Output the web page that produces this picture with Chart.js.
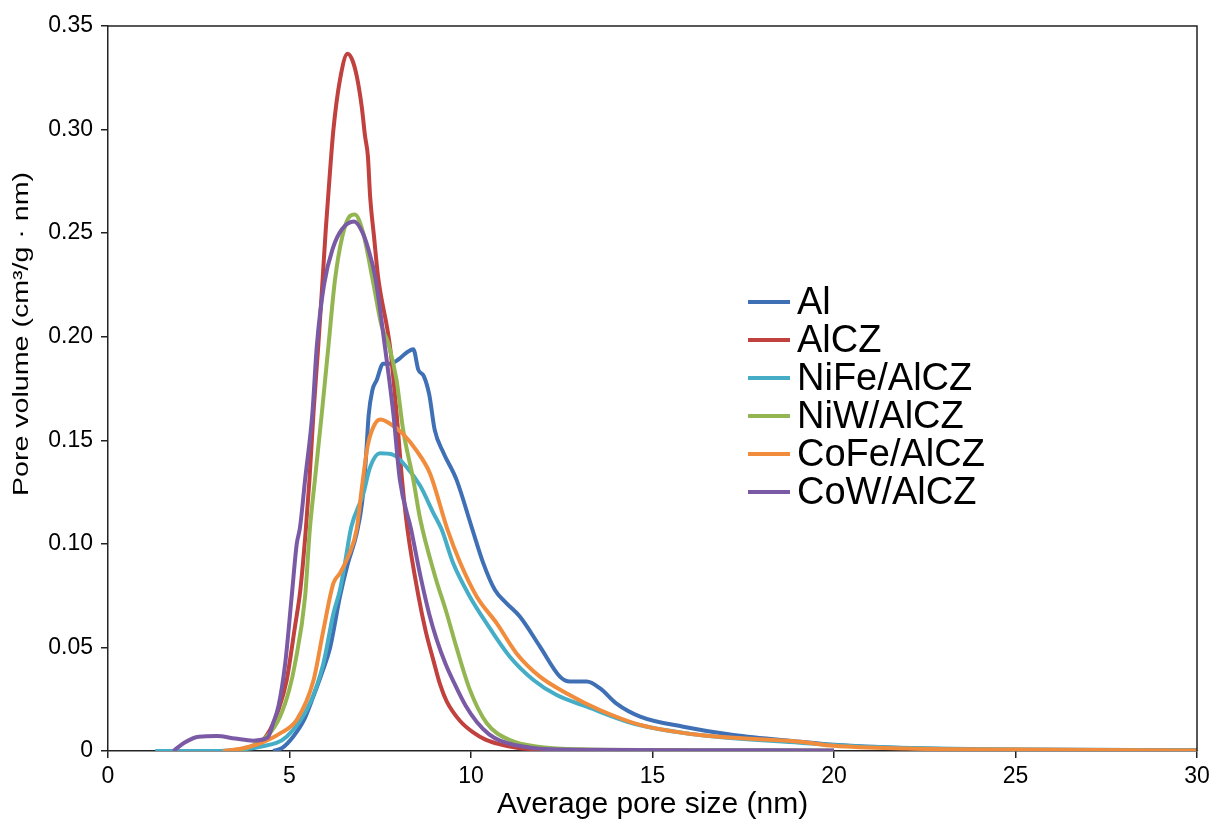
<!DOCTYPE html>
<html>
<head>
<meta charset="utf-8">
<script src="https://cdn.jsdelivr.net/npm/chart.js@4"></script>
<style>
html,body{margin:0;padding:0;background:#fff;}
#wrap{width:1216px;height:820px;position:relative;}
</style>
</head>
<body>
<div id="wrap"><canvas id="c" width="1216" height="820"></canvas></div>
<script>
const seriesNames = ["Al", "AlCZ", "NiFe/AlCZ", "NiW/AlCZ", "CoFe/AlCZ", "CoW/AlCZ"];
const seriesColors = ["#3F70B5", "#C0413E", "#45AEC6", "#93B652", "#F08C3C", "#7A5AA5"];
const xTitle = "Average pore size (nm)";
const yTitle = "Pore volume (cm\u00B3/g \u00B7 nm)";

const alX = [4.55,4.8,5.1,5.4,5.65,5.9,6.12,6.39,6.6,6.85,7.0,7.1,7.18,7.28,7.4,7.58,7.77,8.0,8.2,8.41,8.55,8.7,8.85,9.0,9.24,9.6,10.02,10.34,10.66,10.98,11.35,11.9,12.45,12.73,13.19,13.55,14.0,14.66,15.85,17.23,19.06,20,22.2,25,30];
const alY = [0,0.0015,0.0069,0.015,0.026,0.038,0.050,0.0745,0.09,0.105,0.12,0.14,0.162,0.174,0.179,0.187,0.187,0.189,0.192,0.194,0.184,0.181,0.172,0.155,0.144,0.131,0.108,0.0906,0.0777,0.0713,0.0648,0.0504,0.0359,0.0335,0.0335,0.0303,0.023,0.0166,0.0117,0.0077,0.0045,0.003,0.0013,0.0006,0.0004];

const alczX = [3.3,3.8,4.2,4.46,4.7,4.92,5.15,5.3,5.45,5.55,5.66,5.79,5.91,6.0,6.1,6.21,6.39,6.6,6.72,6.85,6.99,7.08,7.16,7.22,7.33,7.44,7.77,7.95,8.1,8.25,8.55,8.75,8.96,9.15,9.33,9.7,10.06,10.4,10.8,11.26,12,14,16];
const alczY = [0,0.001,0.004,0.010,0.02,0.034,0.06,0.078,0.107,0.131,0.163,0.195,0.227,0.252,0.276,0.300,0.324,0.3366,0.334,0.326,0.311,0.297,0.287,0.268,0.248,0.229,0.195,0.163,0.131,0.107,0.075,0.058,0.044,0.032,0.024,0.0145,0.009,0.0055,0.0032,0.0015,0.0007,0.0004,0.0003];

const nifeX = [1.3,3.1,3.7,4.19,4.92,5.56,5.93,6.21,6.39,6.53,6.7,7.03,7.22,7.49,7.86,8.23,8.6,8.96,9.19,9.51,9.97,10.43,11.07,11.72,12.36,13.19,14.47,16.3,19.06,21,24,30];
const nifeY = [0,0,0.0008,0.002,0.0069,0.023,0.042,0.0664,0.0777,0.091,0.108,0.124,0.137,0.1437,0.143,0.137,0.128,0.115,0.107,0.0906,0.0745,0.0616,0.0455,0.0343,0.027,0.0214,0.0133,0.0077,0.004,0.002,0.0009,0.0004];

const niwX = [3.4,3.9,4.37,4.74,5.0,5.15,5.43,5.56,5.70,5.89,6.07,6.25,6.45,6.65,6.8,7.03,7.31,7.54,7.72,7.95,8.13,8.41,8.6,9.0,9.33,9.6,9.97,10.43,11.07,11.9,13,16,20];
const niwY = [0,0.002,0.0069,0.0166,0.03,0.042,0.0745,0.107,0.131,0.163,0.195,0.227,0.248,0.258,0.259,0.25,0.2258,0.205,0.197,0.179,0.155,0.131,0.112,0.085,0.0665,0.050,0.0295,0.0135,0.0053,0.002,0.0008,0.0004,0.0003];

const cofeX = [3.17,3.72,4.19,4.74,5.2,5.66,5.93,6.21,6.39,6.62,6.85,7.0,7.15,7.3,7.5,7.77,8.13,8.5,8.87,9.35,9.70,10.16,10.71,11.26,11.9,12.64,13.55,14.66,16.3,19.06,20,22,25,30];
const cofeY = [0,0.0014,0.0037,0.0085,0.015,0.034,0.058,0.081,0.0858,0.094,0.107,0.128,0.147,0.156,0.160,0.158,0.153,0.145,0.134,0.107,0.091,0.0745,0.0616,0.047,0.0359,0.0278,0.0198,0.0126,0.0077,0.0045,0.0025,0.0012,0.0007,0.0003];

const cowX = [1.8,2.1,2.5,3.0,3.5,4.0,4.4,4.55,4.7,4.88,5.06,5.2,5.29,5.43,5.63,5.75,5.95,6.2,6.45,6.78,7.02,7.16,7.36,7.63,7.86,8.04,8.35,8.6,8.85,9.05,9.3,9.56,9.85,10.16,10.5,10.8,11.7,13,16,20];
const cowY = [0,0.004,0.0069,0.0072,0.006,0.005,0.0065,0.0135,0.022,0.042,0.0745,0.100,0.108,0.131,0.163,0.195,0.225,0.243,0.252,0.2556,0.250,0.243,0.229,0.195,0.163,0.131,0.107,0.085,0.066,0.054,0.042,0.032,0.022,0.014,0.008,0.005,0.0015,0.0006,0.0004,0.0003];

const seriesX = [alX, alczX, nifeX, niwX, cofeX, cowX];
const seriesY = [alY, alczY, nifeY, niwY, cofeY, cowY];

const FONT = '"Liberation Sans", Arial, sans-serif';

const datasets = seriesNames.map((name, i) => ({
  label: name,
  data: seriesX[i].map((x, k) => ({x: x, y: seriesY[i][k]})),
  borderColor: seriesColors[i],
  backgroundColor: seriesColors[i],
  borderWidth: 4,
  pointRadius: 0,
  fill: false,
  cubicInterpolationMode: 'monotone',
  order: seriesNames.length - i
}));

const framePlugin = {
  id: 'frame',
  afterDatasetsDraw(chart) {
    const a = chart.chartArea, ctx = chart.ctx;
    ctx.save();
    ctx.strokeStyle = '#222';
    ctx.lineWidth = 1.5;
    ctx.beginPath();
    ctx.moveTo(a.left, a.top);
    ctx.lineTo(a.right, a.top);
    ctx.lineTo(a.right, a.bottom);
    ctx.stroke();
    ctx.restore();
  }
};

const legendPlugin = {
  id: 'customLegend',
  afterDraw(chart) {
    const ctx = chart.ctx;
    ctx.save();
    ctx.font = '38px ' + FONT;
    ctx.textBaseline = 'middle';
    ctx.textAlign = 'left';
    chart.data.datasets.forEach((ds, i) => {
      const y = 302 + i * 38;
      ctx.strokeStyle = ds.borderColor;
      ctx.lineWidth = 4;
      ctx.beginPath();
      ctx.moveTo(748, y);
      ctx.lineTo(790, y);
      ctx.stroke();
      ctx.fillStyle = '#000';
      ctx.fillText(ds.label, 797, y + 2);
    });
    ctx.restore();
  }
};

const yTitlePlugin = {
  id: 'yTitle',
  afterDraw(chart) {
    const ctx = chart.ctx;
    ctx.save();
    ctx.translate(22, 334);
    ctx.rotate(-Math.PI / 2);
    ctx.scale(1.3, 1);
    ctx.font = '22px ' + FONT;
    ctx.fillStyle = '#000';
    ctx.textAlign = 'center';
    ctx.textBaseline = 'middle';
    ctx.fillText(yTitle, 0, 0);
    ctx.restore();
  }
};

new Chart(document.getElementById('c'), {
  type: 'line',
  data: { datasets: datasets },
  options: {
    responsive: false,
    animation: false,
    devicePixelRatio: 1,
    layout: { padding: { top: 26, right: 19, left: 0, bottom: 0 } },
    plugins: { legend: { display: false }, tooltip: { enabled: false } },
    scales: {
      x: {
        type: 'linear', min: 0, max: 30,
        ticks: { stepSize: 5, color: '#000', font: { size: 23, family: FONT }, padding: 5, maxRotation: 0 },
        grid: { display: true, drawOnChartArea: false, drawTicks: true, tickLength: 7, color: '#222', lineWidth: 1.5 },
        border: { display: true, color: '#222', width: 1.5 },
        title: { display: true, text: xTitle, color: '#000', font: { size: 30, family: FONT, lineHeight: 1 }, padding: { top: 0, bottom: 0 } },
        afterFit(scale) { scale.height = 69; }
      },
      y: {
        type: 'linear', min: 0, max: 0.35,
        ticks: { stepSize: 0.05, color: '#000', font: { size: 23, family: FONT }, padding: 8,
          callback: (v) => Math.abs(v) < 1e-9 ? '0' : v.toFixed(2) },
        grid: { display: true, drawOnChartArea: false, drawTicks: true, tickLength: 7, color: '#222', lineWidth: 1.5 },
        border: { display: true, color: '#222', width: 1.5 },
        title: { display: false },
        afterFit(scale) { scale.width = 108; }
      }
    }
  },
  plugins: [framePlugin, legendPlugin, yTitlePlugin]
});
</script>
</body>
</html>
